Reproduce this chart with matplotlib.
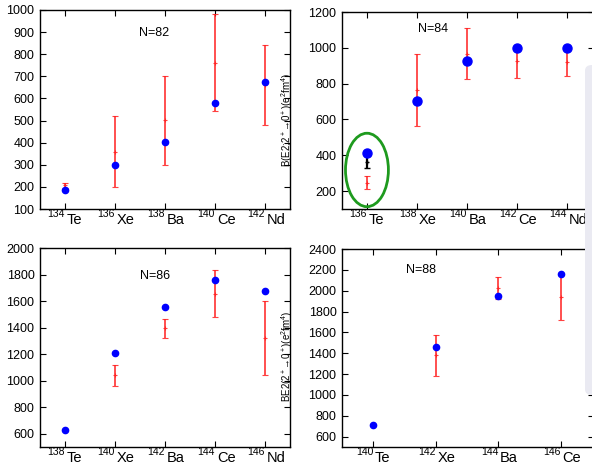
import numpy as np
import matplotlib
matplotlib.use('Agg')
import matplotlib.pyplot as plt
from matplotlib.patches import Ellipse, FancyBboxPatch

plt.rcParams['font.family'] = ['Liberation Sans', 'DejaVu Sans']
plt.rcParams['mathtext.fontset'] = 'custom'
plt.rcParams['mathtext.rm'] = 'Liberation Sans'
plt.rcParams['mathtext.it'] = 'Liberation Sans:italic'
plt.rcParams['mathtext.bf'] = 'Liberation Sans:bold'

# N=82
n82_mass = [134, 136, 138, 140, 142]
n82_elem = ['Te', 'Xe', 'Ba', 'Ce', 'Nd']
n82_theory = [184, 299, 401, 578, 674]
n82_exp = [208, 360, 501, 762, 661]
n82_err = [11, 161, 200, 220, 180]

# N=84
n84_mass = [136, 138, 140, 142, 144]
n84_elem = ['Te', 'Xe', 'Ba', 'Ce', 'Nd']
n84_theory = [411, 702, 924, 1000, 1000]
n84_exp = [246, 763, 968, 924, 922]
n84_err = [37, 200, 140, 93, 79]
n84_te_black = 363
n84_te_black_err = 32

# N=86
n86_mass = [138, 140, 142, 144, 146]
n86_elem = ['Te', 'Xe', 'Ba', 'Ce', 'Nd']
n86_theory = [628, 1206, 1553, 1756, 1676]
n86_exp_mass = [140, 142, 144, 146]
n86_exp = [1040, 1394, 1656, 1319]
n86_err = [79, 72, 178, 279]

# N=88
n88_mass = [140, 142, 144, 146]
n88_elem = ['Te', 'Xe', 'Ba', 'Ce']
n88_theory = [715, 1460, 1949, 2163]
n88_exp_mass = [142, 144, 146]
n88_exp = [1380, 2026, 1943]
n88_err = [198, 110, 222]

W, H = 592, 465
fig = plt.figure(figsize=(W / 100, H / 100), dpi=100)


def add_ax(l, r, t, b):
    return fig.add_axes([l / W, 1 - b / H, (r - l) / W, (b - t) / H])


def style(ax, mass, elem, xlim, ylim, yticks, label):
    ax.set_xlim(*xlim)
    ax.set_ylim(*ylim)
    ax.set_xticks(mass)
    ax.set_xticklabels([])
    # nuclide labels: mass number as a superscript, then the element
    for m, e in zip(mass, elem):
        ax.annotate(str(m), (m, 0), xycoords=('data', 'axes fraction'),
                    xytext=(0.0, -5.6), textcoords='offset points',
                    ha='right', va='baseline', fontsize=7.5, annotation_clip=False)
        ax.annotate(e, (m, 0), xycoords=('data', 'axes fraction'),
                    xytext=(1.3, -10.8), textcoords='offset points',
                    ha='left', va='baseline', fontsize=10.5, annotation_clip=False)
    ax.set_yticks(yticks)
    ax.tick_params(direction='in', top=True, right=True, length=4, width=0.8,
                   labelsize=9, pad=4)
    for s in ax.spines.values():
        s.set_linewidth(1.0)
    ax.text(label[0], label[1], label[2], transform=ax.transAxes, fontsize=9,
            va='center', ha='left')


red = '#ff2020'
ekw = dict(fmt='+', color=red, ms=3, mew=0.8, elinewidth=1.3, capsize=2, capthick=1.0,
           alpha=0.85, zorder=2)

# top left: N=82
ax = add_ax(40, 290, 10, 209)
ax.errorbar(n82_mass, n82_exp, yerr=n82_err, **ekw)
ax.plot(n82_mass, n82_theory, 'o', color='#0000ff', ms=4.5, zorder=3)
style(ax, n82_mass, n82_elem, (133, 143), (100, 1000), np.arange(100, 1001, 100),
      (0.396, 0.884, 'N=82'))

# top right: N=84
ax = add_ax(342, 594, 12, 209)
ax.errorbar(n84_mass, n84_exp, yerr=n84_err, **ekw)
ax.errorbar([n84_mass[0]], [n84_te_black], yerr=[n84_te_black_err], fmt='+', color='black',
            ms=3, elinewidth=1.6, capsize=2, zorder=2)
ax.plot(n84_mass, n84_theory, 'o', color='#0000ff', ms=6.5, zorder=3)
ax.add_patch(Ellipse((136.0, 318), 1.72, 410, fill=False, edgecolor='#1e9a1e', lw=2, zorder=4))
style(ax, n84_mass, n84_elem, (135, 145.1), (100, 1200), np.arange(200, 1201, 200),
      (0.30, 0.912, 'N=84'))
ax.set_ylabel(r'B(E2;2$^+$' + '\u2192' + r'0$^+$)(e$^2$fm$^4$)', fontsize=7)
ax.yaxis.set_label_coords(-0.185, 0.45)

# bottom left: N=86
ax = add_ax(40, 290, 248, 447)
ax.errorbar(n86_exp_mass, n86_exp, yerr=n86_err, **ekw)
ax.plot(n86_mass, n86_theory, 'o', color='#0000ff', ms=4.5, zorder=3)
style(ax, n86_mass, n86_elem, (137, 147), (500, 2000), np.arange(600, 2001, 200),
      (0.40, 0.859, 'N=86'))

# bottom right: N=88
ax = add_ax(342, 594, 249, 447)
ax.errorbar(n88_exp_mass, n88_exp, yerr=n88_err, **ekw)
ax.plot(n88_mass, n88_theory, 'o', color='#0000ff', ms=4.5, zorder=3)
style(ax, n88_mass, n88_elem, (139, 147.07), (500, 2400), np.arange(600, 2401, 200),
      (0.252, 0.894, 'N=88'))
ax.set_ylabel(r'BE2(2$^+$' + '\u2192' + r'0$^+$)(e$^2$fm$^4$)', fontsize=7)
ax.yaxis.set_label_coords(-0.185, 0.46)

# grey panel at the right edge
fig.patches.append(FancyBboxPatch((585 / W, 1 - 395 / H), 30 / W, 330 / H,
                                  boxstyle='round,pad=0,rounding_size=0.012',
                                  transform=fig.transFigure, facecolor='#eaeaf2',
                                  edgecolor='none', zorder=10))

fig.savefig('out.png', dpi=100)
